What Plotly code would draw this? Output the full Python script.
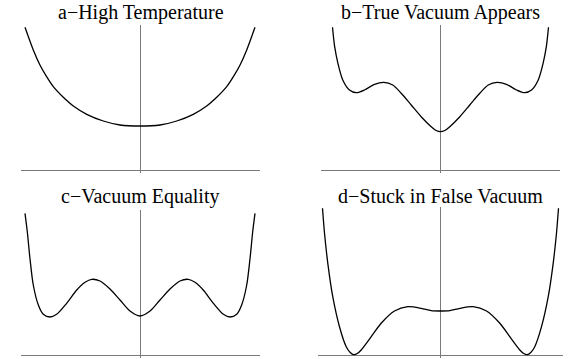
import plotly.graph_objects as go

W, H = 581, 359

# ---- data ----
titles = ["a\u2212High Temperature", "b\u2212True Vacuum Appears",
          "c\u2212Vacuum Equality", "d\u2212Stuck in False Vacuum"]

a_x = [-1.0, -0.928, -0.87, -0.812, -0.754, -0.667, -0.58, -0.463, -0.319, -0.174, 0.0,
       0.174, 0.319, 0.463, 0.58, 0.667, 0.754, 0.812, 0.87, 0.928, 1.0]
a_y = [142.7, 120, 105, 93.3, 83.3, 72.7, 64, 55.7, 49, 45, 44,
       45, 49, 55.7, 64, 72.7, 83.3, 93.3, 105, 120, 142.7]

b_x = [-1.0, -0.98, -0.95, -0.905, -0.843, -0.78, -0.704, -0.611, -0.525, -0.442, -0.364,
       -0.271, -0.179, -0.086, -0.04, 0.0,
       0.04, 0.086, 0.179, 0.271, 0.364, 0.442, 0.525, 0.611, 0.704, 0.78, 0.843, 0.905, 0.95,
       0.98, 1.0]
b_y = [142.7, 123.3, 106.7, 90, 80, 77.3, 80, 85.7, 87.7, 85, 76.7,
       65, 53.3, 43.3, 39.5, 38.3,
       39.5, 43.3, 53.3, 65, 76.7, 85, 87.7, 85.7, 80, 77.3, 80, 90, 106.7,
       123.3, 142.7]

c_x = [-1.0, -0.98, -0.957, -0.928, -0.884, -0.841, -0.783, -0.725, -0.638, -0.55, -0.478,
       -0.42, -0.348, -0.261, -0.174, -0.087, 0.0,
       0.087, 0.174, 0.261, 0.348, 0.42, 0.478, 0.55, 0.638, 0.725, 0.783, 0.841, 0.884,
       0.928, 0.957, 0.98, 1.0]
c_y = [141.7, 123.3, 96.7, 70, 50, 40.7, 38, 40.7, 51.7, 65, 72.7,
       75.7, 74, 66, 55, 44, 39,
       44, 55, 66, 74, 75.7, 72.7, 65, 51.7, 40.7, 38, 40.7, 50,
       70, 96.7, 123.3, 141.7]

d_x = [-1.0, -0.983, -0.955, -0.913, -0.856, -0.799, -0.765, -0.735, -0.705, -0.672, -0.587,
       -0.503, -0.39, -0.277, -0.164, -0.079, 0.0,
       0.079, 0.164, 0.277, 0.39, 0.503, 0.587, 0.672, 0.705, 0.735, 0.765, 0.799, 0.856,
       0.913, 0.955, 0.983, 1.0]
d_y = [146.7, 121.7, 91.7, 58.3, 28.3, 8.3, 2.5, 0.3, 1.5, 5, 18.3,
       31.7, 44, 48.3, 46.7, 44.3, 44,
       44.3, 46.7, 48.3, 44, 31.7, 18.3, 5, 1.5, 0.3, 2.5, 8.3, 28.3,
       58.3, 91.7, 121.7, 146.7]

series = [(a_x, a_y), (b_x, b_y), (c_x, c_y), (d_x, d_y)]

# ---- layout geometry (pixels) ----
# (left, right, top, bottom, xcenter, halfwidth, axis_y)
panels = [
    (21, 260, 25, 173, 140.0, 115.0, 170),
    (321, 560, 25, 173, 440.5, 108.0, 170),
    (21, 260, 210, 358, 140.0, 115.0, 355),
    (318, 563, 207, 358, 440.5, 118.0, 355),
]
title_pos = [(140.5, 12), (440.5, 12), (139.5, 197), (440.5, 196)]

fig = go.Figure()
layout = dict(width=W, height=H, margin=dict(l=0, r=0, t=0, b=0),
              paper_bgcolor="white", plot_bgcolor="white", showlegend=False)
annotations = []
for i, ((xs, ys), (l, r, t, b, xc, hw, ay)) in enumerate(zip(series, panels)):
    n = "" if i == 0 else str(i + 1)
    fig.add_trace(go.Scatter(x=xs, y=ys, mode="lines",
                             line=dict(color="black", width=1.3, shape="spline", smoothing=0.8),
                             xaxis="x" + n, yaxis="y" + n, hoverinfo="skip"))
    axcommon = dict(showgrid=False, showticklabels=False, ticks="", showline=False,
                    zeroline=True, zerolinecolor="#7a7a7a", zerolinewidth=1, fixedrange=True)
    layout["xaxis" + n] = dict(domain=[l / W, r / W],
                               range=[(l - xc) / hw, (r - xc) / hw],
                               anchor="y" + n, **axcommon)
    layout["yaxis" + n] = dict(domain=[(H - b) / H, (H - t) / H],
                               range=[-(b - ay), ay - t],
                               anchor="x" + n, **axcommon)
    tx, ty = title_pos[i]
    annotations.append(dict(text=titles[i], xref="paper", yref="paper",
                            x=tx / W, y=(H - ty) / H, xanchor="center", yanchor="middle",
                            showarrow=False,
                            font=dict(family="Liberation Serif, serif", size=20, color="black")))
layout["annotations"] = annotations
fig.update_layout(**layout)
fig.write_html("out.html", config={"staticPlot": True},
               post_script="document.body.style.margin='0';document.body.style.padding='0';")
